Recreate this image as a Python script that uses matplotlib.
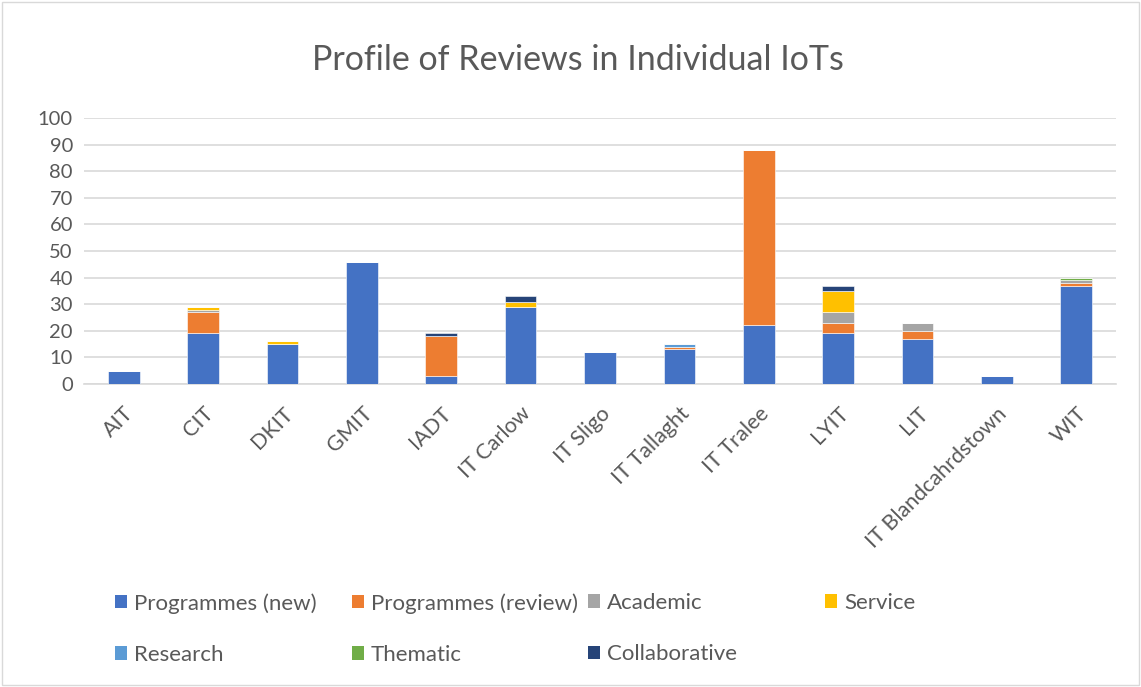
import matplotlib
matplotlib.use("Agg")
import matplotlib.pyplot as plt
import numpy as np
from matplotlib.patches import Patch, Rectangle

categories = ["AIT", "CIT", "DKIT", "GMIT", "IADT", "IT Carlow", "IT Sligo",
              "IT Tallaght", "IT Tralee", "LYIT", "LIT", "IT Blandcahrdstown", "WIT"]
prog_new = [5, 19, 15, 46, 3, 29, 12, 13, 22, 19, 17, 3, 37]
prog_review = [0, 8, 0, 0, 15, 0, 0, 1, 66, 4, 3, 0, 1]
academic = [0, 1, 0, 0, 0, 0, 0, 0, 0, 4, 3, 0, 1]
service = [0, 1, 1, 0, 0, 2, 0, 0, 0, 8, 0, 0, 0]
research = [0, 0, 0, 0, 0, 0, 0, 1, 0, 0, 0, 0, 0]
thematic = [0, 0, 0, 0, 0, 0, 0, 0, 0, 0, 0, 0, 1]
collaborative = [0, 0, 0, 0, 1, 2, 0, 0, 0, 2, 0, 0, 0]

series_names = ["Programmes (new)", "Programmes (review)", "Academic", "Service",
                "Research", "Thematic", "Collaborative"]
series = [prog_new, prog_review, academic, service, research, thematic, collaborative]
colors = ["#4472C4", "#ED7D31", "#A5A5A5", "#FFC000", "#5B9BD5", "#70AD47", "#264478"]

plt.rcParams['font.family'] = ['Lato', 'DejaVu Sans']
txt = "#595959"

fig = plt.figure(figsize=(11.41, 6.87), dpi=100)
fig.patch.set_facecolor("white")
ax = fig.add_axes([84/1141, 1-384/687, (1116-84)/1141, (384-118)/687])

x = np.arange(len(categories))
bottom = np.zeros(len(categories))
for name, vals, c in zip(series_names, series, colors):
    v = np.array(vals, dtype=float)
    ax.bar(x, v, width=0.40, bottom=bottom, color=c, label=name,
           edgecolor="white", linewidth=0.4, zorder=3)
    bottom += v

ax.set_xlim(-0.5, len(categories) - 0.5)
ax.set_ylim(0, 100)
ax.set_yticks(np.arange(0, 101, 10))
ax.yaxis.grid(True, color="#D9D9D9", linewidth=1.2, zorder=0)
for s in ["top", "right", "left"]:
    ax.spines[s].set_visible(False)
ax.spines["bottom"].set_color("#D9D9D9")
ax.spines["bottom"].set_linewidth(1.2)
ax.tick_params(axis="both", length=0, colors=txt)
ax.tick_params(axis="y", pad=8, labelsize=14.5)
ax.set_xticks(x)
ax.set_xticklabels(categories, rotation=45, ha="right", rotation_mode="anchor")
ax.tick_params(axis="x", pad=14, labelsize=15.5)

fig.text(578/1141, 1-60/687, "Profile of Reviews in Individual IoTs", ha="center",
         va="center", fontsize=24.5, color=txt)

# legend: four equal-width columns
handles = [Patch(facecolor=c) for c in colors]
col_x = [115, 352, 588, 825]
for i in range(4):
    hs = [handles[i]]
    ls = [series_names[i]]
    if i + 4 < len(handles):
        hs.append(handles[i + 4])
        ls.append(series_names[i + 4])
    fig.legend(hs, ls, loc="upper left", bbox_to_anchor=(col_x[i]/1141, 1-593/687),
               frameon=False, fontsize=16, labelcolor=txt, handlelength=0.55,
               handleheight=0.55, handletextpad=0.3, labelspacing=1.4,
               borderaxespad=0, borderpad=0)

fig.patches.append(Rectangle((2/1141, 2/687), 1-4/1141, 1-4/687, transform=fig.transFigure,
                             fill=False, edgecolor="#D9D9D9", linewidth=1))

fig.savefig("out.png", dpi=100)
